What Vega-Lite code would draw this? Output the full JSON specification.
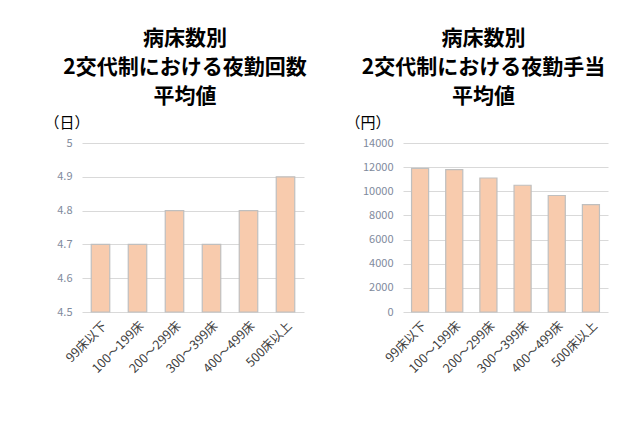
{
  "$schema": "https://vega.github.io/schema/vega-lite/v6.json",
  "background": "white",
  "padding": {"left": 44, "top": 28, "right": 5, "bottom": 5},
  "data": {
    "values": [
      {"beds": "99床以下", "nights": 4.7, "allowance": 11900},
      {"beds": "100～199床", "nights": 4.7, "allowance": 11800},
      {"beds": "200～299床", "nights": 4.8, "allowance": 11100},
      {"beds": "300～399床", "nights": 4.7, "allowance": 10500},
      {"beds": "400～499床", "nights": 4.8, "allowance": 9650},
      {"beds": "500床以上", "nights": 4.9, "allowance": 8900}
    ]
  },
  "config": {
    "font": "Noto Sans CJK JP",
    "view": {"stroke": null},
    "title": {
      "fontSize": 21,
      "fontWeight": "bold",
      "color": "#000000",
      "lineHeight": 29,
      "anchor": "middle",
      "offset": 8
    },
    "axisX": {
      "title": null,
      "labelAngle": -45,
      "labelFontSize": 12.5,
      "labelColor": "#404040",
      "domain": false,
      "ticks": false,
      "labelPadding": 7
    },
    "axisY": {
      "labelFontSize": 11,
      "labelColor": "#7f8a9c",
      "domain": false,
      "ticks": false,
      "labelPadding": 10,
      "gridColor": "#d9d9d9",
      "titleAngle": 0,
      "titleAlign": "left",
      "titleBaseline": "bottom",
      "titleFontSize": 15,
      "titleFontWeight": "normal",
      "titleColor": "#000000"
    },
    "concat": {"spacing": 38}
  },
  "hconcat": [
    {
      "width": 222,
      "height": 169,
      "title": {"text": ["病床数別", "2交代制における夜勤回数", "平均値"], "dx": -8},
      "mark": {"type": "bar", "fill": "#f8cbad", "stroke": "#bfbfbf", "strokeWidth": 1.2},
      "encoding": {
        "x": {
          "field": "beds",
          "type": "nominal",
          "sort": null,
          "scale": {"paddingInner": 0.5, "paddingOuter": 0.25}
        },
        "y": {
          "field": "nights",
          "type": "quantitative",
          "scale": {"domain": [4.5, 5], "clamp": true, "zero": false},
          "axis": {"values": [4.5, 4.6, 4.7, 4.8, 4.9, 5], "format": "~g", "title": "（日）", "titleX": -38, "titleY": -13}
        }
      }
    },
    {
      "width": 205,
      "height": 169,
      "title": {"text": ["病床数別", "2交代制における夜勤手当", "平均値"], "dx": -22},
      "mark": {"type": "bar", "fill": "#f8cbad", "stroke": "#bfbfbf", "strokeWidth": 1.2},
      "encoding": {
        "x": {
          "field": "beds",
          "type": "nominal",
          "sort": null,
          "scale": {"paddingInner": 0.5, "paddingOuter": 0.25}
        },
        "y": {
          "field": "allowance",
          "type": "quantitative",
          "scale": {"domain": [0, 14000]},
          "axis": {"values": [0, 2000, 4000, 6000, 8000, 10000, 12000, 14000], "format": "d", "title": "（円）", "titleX": -58, "titleY": -13}
        }
      }
    }
  ]
}
